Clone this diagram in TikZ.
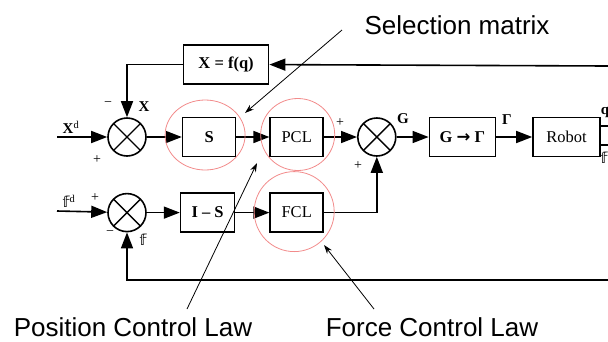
\documentclass[tikz,border=0pt]{standalone}
\usepackage{fontspec}
\setmainfont{Liberation Serif}
\setsansfont{Liberation Sans}
\newfontfamily\dsfont{DejaVu Sans}
\usetikzlibrary{arrows.meta,positioning,calc}
\definecolor{ringred}{HTML}{F28B8B}
\newcommand{\ff}{{\dsfont 𝕗}}

\begin{document}
\begin{tikzpicture}[
  x=1pt,y=1pt,
  font=\fontsize{16.5}{18}\selectfont,
  blk/.style={draw,line width=1.6pt,minimum width=53pt,minimum height=39pt,inner sep=0pt},
  sumj/.style={draw,circle,line width=1.6pt,minimum size=38pt,inner sep=0pt,
    path picture={\draw[line width=1.4pt] (path picture bounding box.north west) -- (path picture bounding box.south east)
      (path picture bounding box.north east) -- (path picture bounding box.south west);}},
  wire/.style={line width=1.6pt},
  sig/.style={wire,-{Triangle[length=16pt,width=12pt]}},
  ptr/.style={line width=0.8pt,-{Stealth[length=9pt,width=6pt]}},
  ring/.style={draw=ringred,line width=0.8pt},
  sgn/.style={inner sep=0pt,font=\fontsize{14}{14}\selectfont},
  lbl/.style={inner sep=0pt,font=\fontsize{15}{15}\selectfont\bfseries},
  note/.style={inner sep=0pt,font=\sffamily\fontsize{26}{28}\selectfont}
]
\useasboundingbox (0,0) rectangle (608,-341);

% upper row
\node[sumj] (sumx) at (127,-137) {};
\node[blk,right=35pt of sumx] (sel) {\textbf{S}};
\node[blk,right=33pt of sel] (pcl) {PCL};
\node[sumj,right=33pt of pcl] (sumg) {};
\node[blk,minimum width=66pt,right=32pt of sumg] (gmap) {\textbf{G {\dsfont\bfseries →} Γ}};
\node[blk,minimum width=67pt,right=36pt of gmap] (robot) {Robot};
\node[blk,minimum width=85pt,above=32pt of sel,xshift=17pt] (fbx) {\textbf{X = f(q)}};

% lower row
\node[sumj,below=36pt of sumx] (sumf) {};
\node[blk,minimum width=54pt,right=33pt of sumf] (isel) {\textbf{I – S}};
\node[blk,right=34pt of isel] (fcl) {FCL};

% free ends
\coordinate (xin) at (57,-137);
\coordinate (fin) at (57,-211);
\coordinate (topr) at (608,-66);
\coordinate (botr) at (608,-280);
\coordinate (qout) at (608,-126);
\coordinate (fout) at (608,-145);

\draw[sig] (xin) -- (sumx);
\draw[sig] (sumx) -- (sel);
\draw[sig] (sel) -- (pcl);
\draw[sig] (pcl) -- (sumg);
\draw[sig] (sumg) -- (gmap);
\draw[sig] (gmap) -- (robot);
\draw[wire] (robot.east |- qout) -- (qout);
\draw[wire] (robot.east |- fout) -- (fout);
\draw[sig] (topr) -- (fbx);
\draw[sig] (fbx.west) -| (sumx.north);
\draw[sig] (fin) -- (sumf);
\draw[sig] (sumf) -- (isel);
\draw[sig] (isel) -- (fcl);
\draw[sig] (fcl.east) -| (sumg.south);
\draw[sig] (botr) -| (sumf.south);

% signs and signal names
\node[lbl] (lxd) at (71,-127) {X\textsuperscript{\mdseries d}};
\node[lbl] (lx) at (144,-107) {X};
\node[sgn] (mx) at (108,-104) {−};
\node[sgn] (px) at (97,-160) {+};
\node[lbl,font=\fontsize{15}{15}\selectfont] (lfd) at (69,-201) {\ff\textsuperscript{d}};
\node[sgn] (pf) at (95,-198) {+};
\node[sgn] (mf) at (110,-233) {−};
\node[lbl,font=\fontsize{15}{15}\selectfont] (lf) at (143,-240) {\ff};
\node[sgn] (pg1) at (340,-123) {+};
\node[sgn] (pg2) at (358,-166) {+};
\node[lbl] (lg) at (403,-119) {G};
\node[lbl] (lgam) at (507,-120) {Γ};
\node[lbl] (lq) at (605,-112) {q};
\node[lbl,font=\fontsize{15}{15}\selectfont] (lfo) at (604,-158) {\ff};

% highlighted blocks
\draw[ring] ($(sel)+(-4,2)$) ellipse (40pt and 35pt);
\draw[ring] ($(pcl)+(1,2.5)$) ellipse (37pt and 36pt);
\draw[ring] ($(fcl)+(-2.5,1)$) ellipse (40pt and 40pt);

% annotations
\node[note] (selnote) at (457,-25) {Selection matrix};
\node[note] (posnote) at (133,-327) {Position Control Law};
\node[note] (fornote) at (432,-327) {Force Control Law};
\coordinate (selend) at (342,-30);
\coordinate (selhit) at (245,-113);
\coordinate (posend) at (187,-309);
\coordinate (poshit) at (257,-163);
\coordinate (forend) at (374,-309);
\coordinate (forhit) at (324,-245);
\draw[ptr] (selend) -- (selhit);
\draw[ptr] (posend) -- (poshit);
\draw[ptr] (forend) -- (forhit);
\end{tikzpicture}
\end{document}
